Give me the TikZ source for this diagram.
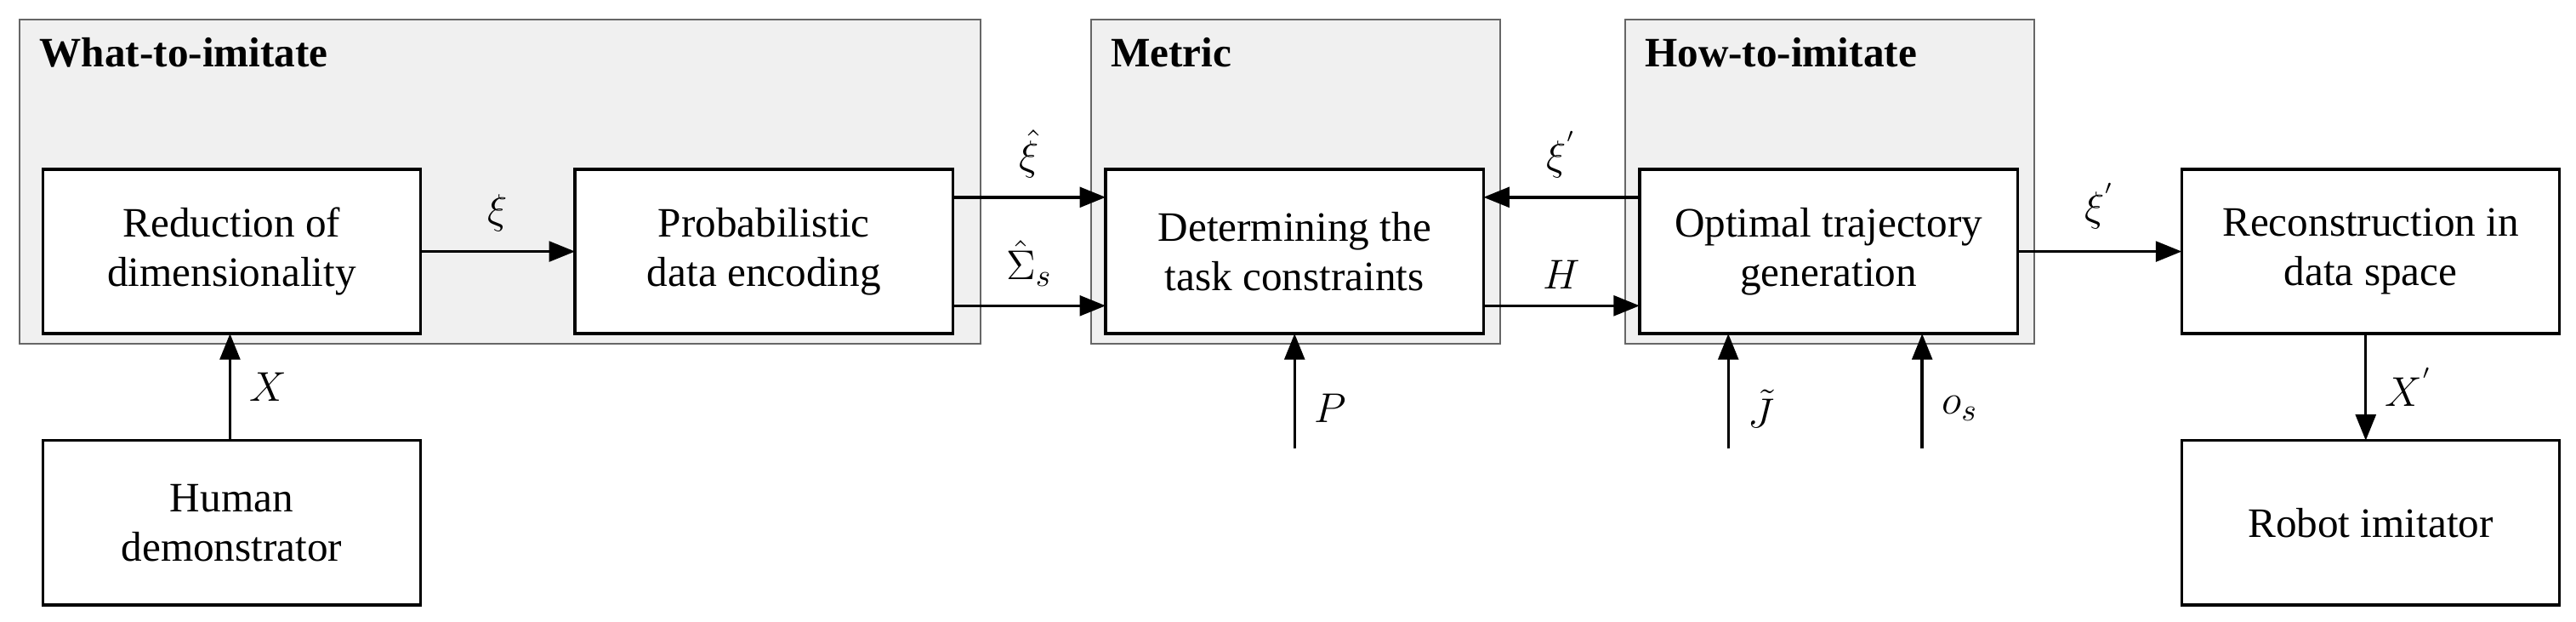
\documentclass[tikz,border=0pt]{standalone}
\usepackage{fontspec}
\setmainfont{Liberation Serif}
\usetikzlibrary{arrows.meta}
\begin{document}
\begin{tikzpicture}[x=0.02cm,y=-0.02cm,
  grp/.style={draw=black!60,fill=black!6,line width=0.6pt},
  box/.style={draw,fill=white,line width=1pt,align=center,font=\fontsize{14.5}{17}\selectfont},
  ar/.style={-{Triangle[length=9pt,width=7pt]},line width=1pt},
  ttl/.style={anchor=north west,font=\fontsize{14.5}{17}\selectfont\bfseries},
  lb/.style={font=\fontsize{15}{17}\selectfont}]
\useasboundingbox (0,0) rectangle (1568,378);
\fill[white] (0,0) rectangle (1568,378);
\draw[grp] (12,12) rectangle (597,209);
\draw[grp] (664,12) rectangle (913,209);
\draw[grp] (989,12) rectangle (1238,209);
\node[ttl] (t1) at (18,17) {What-to-imitate};
\node[ttl] (t2) at (670,17) {Metric};
\node[ttl] (t3) at (995,17) {How-to-imitate};
\def\bx#1#2#3#4{\draw[box] (#2,#3) rectangle ++(230,100); \node[box,draw=none,fill=none] (#1) at (#2+115,#3+50) {#4};
 \coordinate (#1w) at (#2,#3+50); \coordinate (#1e) at (#2+230,#3+50);}
\bx{red}{26}{103}{Reduction of\\dimensionality}
\bx{pro}{350}{103}{Probabilistic\\data encoding}
\bx{det}{673}{103}{Determining the\\task constraints}
\bx{opt}{998}{103}{Optimal trajectory\\generation}
\bx{rec}{1328}{103}{Reconstruction in\\data space}
\bx{hum}{26}{268}{Human\\demonstrator}
\bx{rob}{1328}{268}{Robot imitator}
\draw[ar] (256,153) -- node[lb,above=3pt]{$\xi$} (350,153);
\draw[ar] (580,120) -- node[lb,above=3pt]{$\hat{\xi}$} (673,120);
\draw[ar] (580,186) -- node[lb,above=3pt]{$\hat{\Sigma}_s$} (673,186);
\draw[ar] (998,120) -- node[lb,above=3pt]{$\xi^{'}$} (903,120);
\draw[ar] (903,186) -- node[lb,above=2pt]{$H$} (998,186);
\draw[ar] (1228,153) -- node[lb,above=4pt]{$\xi^{'}$} (1328,153);
\draw[ar] (140,268) -- node[lb,right=3pt]{$X$} (140,203);
\coordinate (p) at (788,273); \draw[ar] (p) -- node[lb,right=3pt,pos=0.35]{$P$} (788,203);
\coordinate (j) at (1052,273); \draw[ar] (j) -- node[lb,right=3pt,pos=0.35]{$\tilde{J}$} (1052,203);
\coordinate (o) at (1170,273); \draw[ar] (o) -- node[lb,right=3pt,pos=0.35]{$o_s$} (1170,203);
\draw[ar] (1440,203) -- node[lb,right=3pt]{$X^{'}$} (1440,268);
\end{tikzpicture}
\end{document}
